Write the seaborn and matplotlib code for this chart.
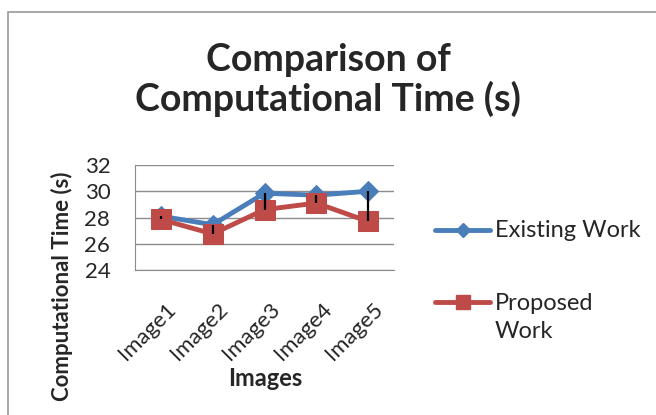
import matplotlib
matplotlib.use("Agg")
import matplotlib.pyplot as plt
import matplotlib.transforms as mtransforms
import seaborn as sns
import pandas as pd
from matplotlib.lines import Line2D
from matplotlib.patches import Rectangle

# data
images = ["Image1", "Image2", "Image3", "Image4", "Image5"]
existing_work = [28.1, 27.45, 29.85, 29.7, 30.0]
proposed_work = [27.85, 26.75, 28.6, 29.1, 27.7]
y_ticks = [24, 26, 28, 30, 32]

blue = "#4A7EBB"
red = "#BE4B48"

sns.set_style("white")
plt.rcParams["font.family"] = ["Lato", "DejaVu Sans"]

W, H = 656, 415
fig = plt.figure(figsize=(W / 100, H / 100), dpi=100)
ax = fig.add_axes([135 / W, 1 - 270 / H, 259 / W, 105 / H])

df = pd.DataFrame({"Image": images, "Existing Work": existing_work,
                   "Proposed Work": proposed_work})

# high-low lines between the two series
ax.vlines(range(len(images)), df["Proposed Work"], df["Existing Work"],
          color="black", lw=1.6, zorder=4)

sns.lineplot(data=df, x="Image", y="Existing Work", ax=ax, color=blue,
             lw=3.5, marker="D", markersize=10, markeredgecolor=blue, zorder=3)
sns.lineplot(data=df, x="Image", y="Proposed Work", ax=ax, color=red,
             lw=3.5, marker="s", markersize=14.5, markeredgecolor=red, zorder=3)

ax.set_xlim(-0.5, len(images) - 0.5)
ax.set_ylim(24, 32)
ax.set_yticks(y_ticks)
ax.yaxis.grid(True, color="#8c8c8c", lw=1)
ax.set_axisbelow(True)
for s in ["top", "right"]:
    ax.spines[s].set_visible(False)
for s in ["left", "bottom"]:
    ax.spines[s].set_color("#8c8c8c")
ax.tick_params(axis="y", length=5.8, color="#8c8c8c", labelsize=16, pad=12)
ax.tick_params(axis="x", length=0, labelsize=16, pad=21)
shift = mtransforms.ScaledTranslation(5 / 100, 0, fig.dpi_scale_trans)
for lab in ax.get_xticklabels():
    lab.set_rotation(45)
    lab.set_ha("right")
    lab.set_va("top")
    lab.set_rotation_mode("anchor")
    lab.set_transform(lab.get_transform() + shift)

ax.set_xlabel("Images", fontsize=17, fontweight="bold")
ax.xaxis.set_label_coords(0.502, -1.03)
ax.xaxis.label.set_va("center")
ax.set_ylabel("Computational Time (s)", fontsize=16, fontweight="bold")
ax.yaxis.set_label_coords(-0.282, -0.152)
ax.yaxis.label.set_va("center")

fig.text(0.5, 1 - 80 / H, "Comparison of\nComputational Time (s)",
         ha="center", va="center", fontsize=27, fontweight="bold",
         linespacing=1.12)

# legend, Excel style: handle on the first line of a wrapped label
fig.add_artist(Line2D([435 / W, 490 / W], [1 - 230 / H] * 2, color=blue,
                      lw=3.5, transform=fig.transFigure))
fig.add_artist(Line2D([462.5 / W], [1 - 230 / H], color=blue, marker="D",
                      markersize=7, transform=fig.transFigure))
fig.add_artist(Line2D([435 / W, 490 / W], [1 - 302 / H] * 2, color=red,
                      lw=3.5, transform=fig.transFigure))
fig.add_artist(Line2D([462.5 / W], [1 - 302 / H], color=red, marker="s",
                      markersize=10, transform=fig.transFigure))
fig.text(495 / W, 1 - 237 / H, "Existing Work", fontsize=17, va="baseline")
fig.text(495 / W, 1 - 310 / H, "Proposed", fontsize=17, va="baseline")
fig.text(495 / W, 1 - 338 / H, "Work", fontsize=17, va="baseline")

fig.patches.append(Rectangle((8 / W, -0.1), 1.2, 1 - 12 / H + 0.1,
                             transform=fig.transFigure, fill=False,
                             edgecolor="#9a9a9a", lw=1.2))

fig.savefig("out.png", dpi=100)
